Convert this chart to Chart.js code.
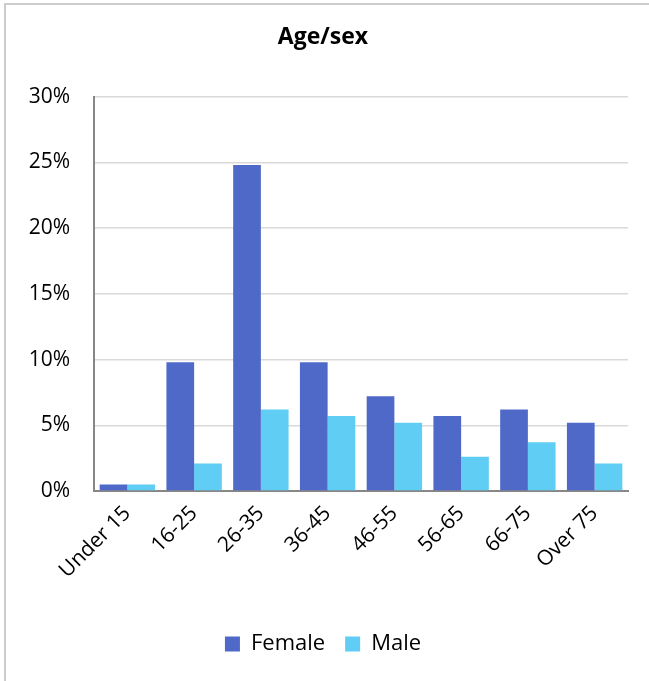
<!DOCTYPE html>
<html>
<head>
<meta charset="utf-8">
<script src="https://cdn.jsdelivr.net/npm/chart.js@4"></script>
<style>
    html, body { margin: 0; padding: 0; background: #fff; }
    #marco { position: relative; width: 649px; height: 681px; }
    #borde { position: absolute; left: 4px; top: 3px; right: -10px; bottom: -10px; border-top: 2px solid #cccccc; border-left: 2px solid #cccccc; pointer-events: none; }
</style>
</head>
<body>
<div id="marco">
    <canvas id="graficaEdad" width="649" height="681"></canvas>
    <div id="borde"></div>
</div>
<script>
const categorias = ['Under 15', '16-25', '26-35', '36-45', '46-55', '56-65', '66-75', 'Over 75'];
const valoresFemale = [0.5, 9.8, 24.8, 9.8, 7.2, 5.7, 6.2, 5.2];
const valoresMale = [0.5, 2.1, 6.2, 5.7, 5.2, 2.6, 3.7, 2.1];
const ticksY = [0, 5, 10, 15, 20, 25, 30];

const fuente = "'Open Sans', 'Liberation Sans', sans-serif";

document.addEventListener('DOMContentLoaded', () => {
    dibujarGrafica();
});

function dibujarGrafica() {
    const ctx = document.getElementById('graficaEdad').getContext('2d');
    new Chart(ctx, {
        type: 'bar',
        data: {
            labels: categorias,
            datasets: [
                { label: 'Female', data: valoresFemale, backgroundColor: '#4f69c9', categoryPercentage: 0.83, barPercentage: 1.0 },
                { label: 'Male', data: valoresMale, backgroundColor: '#5fcdf4', categoryPercentage: 0.83, barPercentage: 1.0 }
            ]
        },
        options: {
            responsive: false,
            animation: false,
            layout: { padding: { left: 18, right: 21, top: 0, bottom: 16 } },
            plugins: {
                title: {
                    display: true,
                    text: 'Age/sex',
                    color: '#000',
                    font: { family: fuente, size: 23, weight: 'bold' },
                    padding: { top: 24, bottom: 45 }
                },
                legend: {
                    position: 'bottom',
                    labels: {
                        color: '#000',
                        font: { family: fuente, size: 22 },
                        boxWidth: 15,
                        boxHeight: 15,
                        padding: 20
                    }
                },
                tooltip: { enabled: false }
            },
            scales: {
                x: {
                    afterFit: s => { s.height = 122; },
                    grid: { display: false },
                    border: { display: true, color: '#878787', width: 2 },
                    ticks: {
                        color: '#000',
                        font: { family: fuente, size: 21 },
                        minRotation: 45,
                        maxRotation: 45,
                        padding: 2
                    }
                },
                y: {
                    min: 0,
                    max: 30,
                    afterFit: s => { s.width = 76; },
                    afterBuildTicks: s => { s.ticks = ticksY.map(v => ({ value: v })); },
                    grid: { color: '#d9d9d9', lineWidth: 1.5, drawTicks: false },
                    border: { display: true, color: '#878787', width: 2 },
                    ticks: {
                        color: '#000',
                        font: { family: fuente, size: 21 },
                        padding: 24,
                        callback: v => v + '%'
                    }
                }
            }
        }
    });
}
</script>
</body>
</html>
